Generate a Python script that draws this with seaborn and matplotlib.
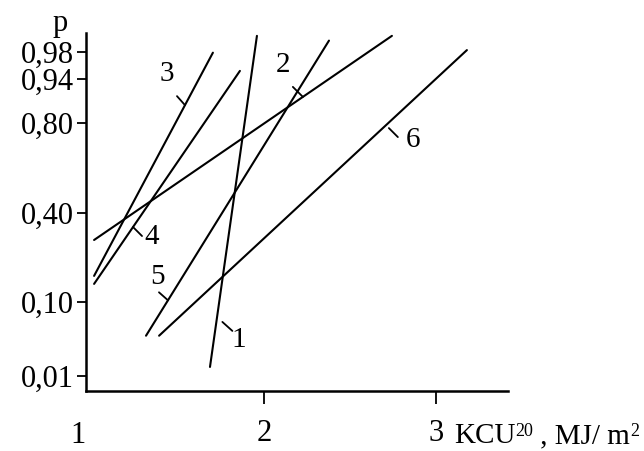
import numpy as np
import pandas as pd
import matplotlib
matplotlib.use("Agg")
import matplotlib.pyplot as plt
import seaborn as sns

# ---------------- data ----------------
CURVES = ["1", "2", "3", "4", "5", "6"]
X_START = [1.686, 1.012, 1.012, 1.012, 1.314, 1.390]
X_END = [1.959, 2.744, 1.703, 1.860, 2.378, 3.180]
P_START = [0.021, 0.309, 0.188, 0.161, 0.059, 0.059]
P_END = [0.997, 0.997, 0.979, 0.952, 0.992, 0.982]

Y_TICKS = [0.01, 0.10, 0.40, 0.80, 0.94, 0.98]
Y_TICK_LABELS = ["0,01", "0,10", "0,40", "0,80", "0,94", "0,98"]
X_TICKS = [2, 3]
X_TICK_LABELS = ["2", "3"]
X_ORIGIN_LABEL = "1"
X_LABEL_MAIN = "KCU"
X_LABEL_SUP1 = "20"
X_LABEL_MID = " , MJ/ m"
X_LABEL_SUP2 = "2"
Y_LABEL = "p"

# ---------------- layout / style ----------------
W, H = 644, 451
AX_LEFT, AX_BOTTOM, AX_W, AX_H = 86, 60, 422, 358   # pixels
# probability paper: vertical position (px above bottom) of each p anchor
SCALE_P = [0.0] + Y_TICKS + [1.0]
SCALE_POS = [0, 15, 89, 178, 268, 312, 339, 358]
XLIM = (0.965, 3.419)
FS = 22
FS_LAB = 21
FS_SUP = 13
SUP_RAISE = 9.5
LW = 1.5

# label placement along each line (fraction from lower end) and offsets (px, y down)
LABEL_T = [0.136, 0.701, 0.765, 0.267, 0.120, 0.727]
TICK_FROM = [(6, 0), (0, 0), (0, 0), (0, 0), (0, 0), (6, 0)]
TICK_TO = [(16, 9), (-10, -10), (-8, -9), (9, 9), (-9, -8), (15, 9)]
TEXT_OFF = [(22, 18), (-20, -32), (-18, -31), (19, 10), (-10, -23), (30, 12)]

sns.set_style("ticks")
plt.rcParams["font.family"] = ["Liberation Serif", "DejaVu Serif"]
for k in ("text.color", "axes.labelcolor", "xtick.color", "ytick.color", "axes.edgecolor"):
    plt.rcParams[k] = "black"

fig = plt.figure(figsize=(W / 100, H / 100), dpi=100)
fig.patch.set_facecolor("white")
ax = fig.add_axes([AX_LEFT / W, AX_BOTTOM / H, AX_W / W, AX_H / H])

rows = []
for c, x0, x1, p0, p1 in zip(CURVES, X_START, X_END, P_START, P_END):
    rows.append({"curve": c, "x": x0, "p": p0})
    rows.append({"curve": c, "x": x1, "p": p1})
df = pd.DataFrame(rows)

sns.lineplot(data=df, x="x", y="p", hue="curve", palette=["black"] * len(CURVES),
             estimator=None, sort=False, legend=False, linewidth=LW, ax=ax)


def fwd(p):
    return np.interp(p, SCALE_P, SCALE_POS)


def inv(v):
    return np.interp(v, SCALE_POS, SCALE_P)


ax.set_yscale("function", functions=(fwd, inv))
ax.set_ylim(0, 1)
ax.set_xlim(*XLIM)
ax.set_xlabel("")
ax.set_ylabel("")
sns.despine(ax=ax)
for s in ("left", "bottom"):
    ax.spines[s].set_linewidth(1.8)
    ax.spines[s].set_color("black")

ax.set_yticks(Y_TICKS, Y_TICK_LABELS)
ax.set_xticks(X_TICKS, X_TICK_LABELS)
ax.minorticks_off()
ax.tick_params(axis="y", length=6.5, width=1.3, pad=2, labelsize=FS, colors="black")
ax.tick_params(axis="x", length=9.5, width=1.3, pad=11, labelsize=FS, colors="black")

# axis texts (baseline aligned with the x tick labels)
BASE = -52
ax.annotate(X_ORIGIN_LABEL, xy=(0, 0), xycoords="axes fraction", xytext=(-8, BASE),
            textcoords="offset pixels", ha="center", va="baseline", fontsize=FS)
t1 = ax.annotate(X_LABEL_MAIN, xy=(3, 0), xycoords=("data", "axes fraction"), xytext=(18, BASE),
                 textcoords="offset pixels", ha="left", va="baseline", fontsize=FS_LAB)
t2 = ax.annotate(X_LABEL_SUP1, xy=(1, 0), xycoords=t1, xytext=(0, SUP_RAISE),
                 textcoords="offset pixels", ha="left", va="bottom", fontsize=FS_SUP)
t3 = ax.annotate(X_LABEL_MID, xy=(1, 0), xycoords=t2, xytext=(0, -SUP_RAISE),
                 textcoords="offset pixels", ha="left", va="bottom", fontsize=FS_LAB)
ax.annotate(X_LABEL_SUP2, xy=(1, 0), xycoords=t3, xytext=(0, SUP_RAISE),
            textcoords="offset pixels", ha="left", va="bottom", fontsize=FS_SUP)
ax.annotate(Y_LABEL, xy=(0, 1), xycoords="axes fraction", xytext=(-26, 10),
            textcoords="offset pixels", ha="center", va="center", fontsize=FS)

# curve labels with small leader ticks
to_disp = ax.transData.transform
to_data = ax.transData.inverted().transform
for c, x0, x1, p0, p1, t, tf, tt, to in zip(CURVES, X_START, X_END, P_START, P_END,
                                            LABEL_T, TICK_FROM, TICK_TO, TEXT_OFF):
    a, b = to_disp([(x0, p0), (x1, p1)])
    pt = a + t * (b - a)
    s = to_data(pt + np.array([tf[0], -tf[1]]))
    e = to_data(pt + np.array([tt[0], -tt[1]]))
    ax.annotate("", xy=tuple(s), xytext=tuple(e), xycoords="data", textcoords="data",
                arrowprops=dict(arrowstyle="-", color="black", lw=1.3, shrinkA=0, shrinkB=0))
    ax.annotate(c, xy=tuple(to_data(pt)), xytext=(to[0], -to[1]), textcoords="offset pixels",
                ha="center", va="center", fontsize=FS_LAB)

fig.savefig("out.png", dpi=100, facecolor="white")
